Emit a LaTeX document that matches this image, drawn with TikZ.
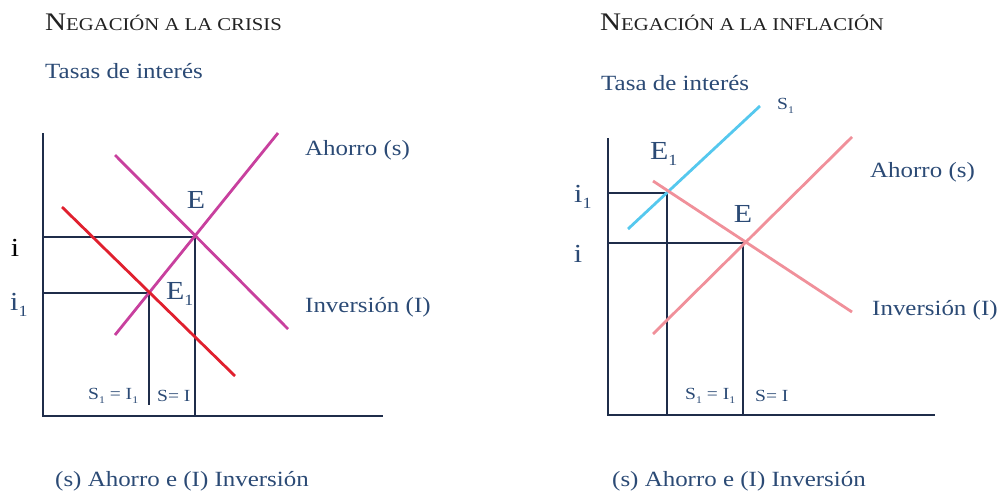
\documentclass[tikz,border=0pt]{standalone}
\usepackage{fontspec}
\setmainfont[FakeStretch=1.15]{Liberation Serif}
\definecolor{navy}{HTML}{1F2D4A}
\definecolor{txtblue}{HTML}{2B4A75}
\definecolor{titlecol}{HTML}{222222}
\definecolor{magen}{HTML}{C8409E}
\definecolor{redl}{HTML}{E0202E}
\definecolor{bluel}{HTML}{55C8EE}
\definecolor{pinkl}{HTML}{F0909A}
\newcommand{\sm}[1]{{\fontsize{18}{18}\selectfont #1}}
\newcommand{\subone}{\raisebox{-0.5ex}{\scalebox{0.6}{1}}}
\begin{document}
\begin{tikzpicture}[x=1pt,y=-1pt,
  axis/.style={navy,line width=2.6pt},
  guide/.style={navy,line width=1.8pt},
  curve/.style={line width=2.8pt},
  lbl/.style={txtblue,inner sep=0pt,font=\fontsize{21.7}{22}\selectfont},
  biglbl/.style={txtblue,inner sep=0pt,font=\fontsize{26}{26}\selectfont},
  smalllbl/.style={txtblue,inner sep=0pt,font=\fontsize{17}{17}\selectfont},
  ttl/.style={titlecol,inner sep=0pt,anchor=west,font=\fontsize{25.3}{26}\selectfont}]
\useasboundingbox (0,0) rectangle (1003,493);
% ---------------- left chart ----------------
\node[ttl] (t1) at (45,22) {N\sm{EGACIÓN A LA CRISIS}};
\node[lbl,anchor=west] (y1) at (45,71) {Tasas de interés};
\coordinate (LO) at (43,416);
\coordinate (LT) at (43,133);
\coordinate (LR) at (383,416);
\coordinate (LE) at (195,237);
\coordinate (LE1) at (149,293);
\coordinate (LEa) at (43,237);
\coordinate (LEb) at (195,416);
\coordinate (LE1a) at (43,293);
\coordinate (LE1b) at (149,405);
\draw[guide] (LEa) -- (LE) -- (LEb);
\draw[guide] (LE1a) -- (LE1) -- (LE1b);
\coordinate (LSa) at (115,335);
\coordinate (LSb) at (278,133);
\coordinate (LIa) at (115,155);
\coordinate (LIb) at (288,329);
\coordinate (LRa) at (62,207);
\coordinate (LRb) at (235,376);
\draw[curve,magen] (LSa) -- (LSb);
\draw[curve,magen] (LIa) -- (LIb);
\draw[curve,redl] (LRa) -- (LRb);
\draw[axis] (LT) -- (LO) -- (LR);
\node[biglbl] (lEl) at (196,200) {E};
\node[biglbl,anchor=west] (lE1l) at (166,294) {E\subone};
\node[biglbl,black] (li) at (15,248) {i};
\node[biglbl,anchor=west] (li1) at (10,305) {i\subone};
\node[lbl,anchor=west] (lah) at (305,150) {Ahorro (s)};
\node[lbl,anchor=west] (linv) at (305,307) {Inversión (I)};
\node[smalllbl,anchor=west] (lsi1) at (88,396) {S\subone\ = I\subone};
\node[smalllbl,anchor=west] (lsi) at (157,396) {S= I};
\node[lbl,anchor=west] (lb) at (55,481) {(s) Ahorro e (I) Inversión};
% ---------------- right chart ----------------
\node[ttl] (t2) at (600,22) {N\sm{EGACIÓN A LA INFLACIÓN}};
\node[lbl,anchor=west] (y2) at (601,83) {Tasa de interés};
\coordinate (RO) at (608,415);
\coordinate (RT) at (608,138);
\coordinate (RR) at (935,415);
\coordinate (RE) at (743,243);
\coordinate (RE1) at (667,193);
\coordinate (REa) at (608,243);
\coordinate (REb) at (743,415);
\coordinate (RE1a) at (608,193);
\coordinate (RE1b) at (667,415);
\draw[guide] (REa) -- (RE) -- (REb);
\draw[guide] (RE1a) -- (RE1) -- (RE1b);
\coordinate (RBa) at (628,229);
\coordinate (RBb) at (760,106);
\coordinate (RSa) at (653,334);
\coordinate (RSb) at (852,137);
\coordinate (RIa) at (653,181);
\coordinate (RIb) at (852,312);
\draw[curve,bluel] (RBa) -- (RBb);
\draw[curve,pinkl] (RSa) -- (RSb);
\draw[curve,pinkl] (RIa) -- (RIb);
\draw[axis] (RT) -- (RO) -- (RR);
\node[smalllbl,anchor=west] (rs1) at (777,106) {S\subone};
\node[biglbl,anchor=west] (rE1l) at (650,154) {E\subone};
\node[biglbl] (rEl) at (743,214) {E};
\node[biglbl,anchor=west] (ri1) at (574,197) {i\subone};
\node[biglbl] (ri) at (578,254) {i};
\node[lbl,anchor=west] (rah) at (870,172) {Ahorro (s)};
\node[lbl,anchor=west] (rinv) at (872,310) {Inversión (I)};
\node[smalllbl,anchor=west] (rsi1) at (685,396) {S\subone\ = I\subone};
\node[smalllbl,anchor=west] (rsi) at (755,396) {S= I};
\node[lbl,anchor=west] (rb) at (612,481) {(s) Ahorro e (I) Inversión};
\end{tikzpicture}
\end{document}
